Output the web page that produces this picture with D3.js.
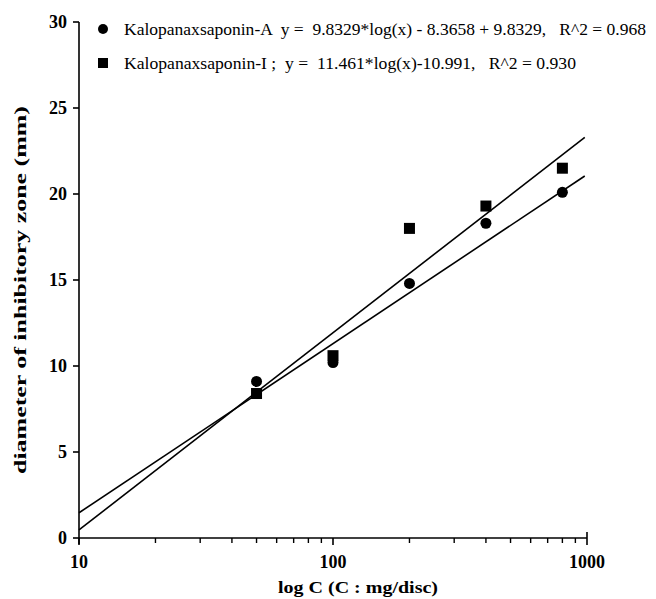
<!DOCTYPE html>
<html>
<head>
<meta charset="utf-8">
<script src="https://cdn.jsdelivr.net/npm/d3@7"></script>
<style>
  body { margin: 0; background: #fff; }
  text { font-family: "Liberation Serif", "Times New Roman", serif; fill: #000; white-space: pre; }
</style>
</head>
<body>
<div id="chart"></div>
<script>
// concentrations (mg/disc) and zone diameters (mm)
const conc = [50, 100, 200, 400, 800]
const saponinA = [9.1, 10.2, 14.8, 18.3, 20.1]
const saponinI = [8.4, 10.6, 18.0, 19.3, 21.5]
const yTicks = [0, 5, 10, 15, 20, 25, 30]
const xTicks = [10, 100, 1000]

// fitted lines: y = slope*log10(x) + intercept
const fitA = { slope: 9.8329, intercept: -8.3658 }
const fitI = { slope: 11.461, intercept: -10.991 }
const fitRange = [10, 980]

const legendLabels = [
  'Kalopanaxsaponin-A  y =  9.8329*log(x) - 8.3658 + 9.8329,   R^2 = 0.968',
  'Kalopanaxsaponin-I ;  y =  11.461*log(x)-10.991,   R^2 = 0.930'
]

const width = 656
const height = 599
const margin = { top: 22, right: 69, bottom: 61, left: 79 }

const svg = d3.select('#chart').append('svg')
  .attr('width', width)
  .attr('height', height)

const x = d3.scaleLog()
  .domain([10, 1000])
  .range([margin.left, width - margin.right])

const y = d3.scaleLinear()
  .domain([0, 30])
  .range([height - margin.bottom, margin.top])

// x axis: line + log ticks
const xMinor = []
for (let d = 10; d < 1000; d *= 10) {
  for (let k = 2; k <= 9; k++) xMinor.push(d * k)
}

const xAxis = svg.append('g')
xAxis.append('line')
  .attr('x1', x(10)).attr('x2', x(1000))
  .attr('y1', y(0)).attr('y2', y(0))
  .attr('stroke', '#000').attr('stroke-width', 1.6)

xAxis.selectAll('.minor').data(xMinor).enter().append('line')
  .attr('x1', d => x(d)).attr('x2', d => x(d))
  .attr('y1', y(0)).attr('y2', y(0) + 5)
  .attr('stroke', '#000').attr('stroke-width', 1.4)

xAxis.selectAll('.major').data(xTicks).enter().append('line')
  .attr('x1', d => x(d)).attr('x2', d => x(d))
  .attr('y1', d => d === 1000 ? y(0) - 6 : y(0))
  .attr('y2', y(0) + 7)
  .attr('stroke', '#000').attr('stroke-width', 1.6)

xAxis.selectAll('.xlab').data(xTicks).enter().append('text')
  .attr('x', d => x(d))
  .attr('y', y(0) + 30)
  .attr('text-anchor', 'middle')
  .style('font-size', '18px')
  .style('font-weight', 'bold')
  .text(d => d)

// y axis
const yAxis = svg.append('g')
yAxis.append('line')
  .attr('x1', x(10)).attr('x2', x(10))
  .attr('y1', y(0) + 6).attr('y2', y(30))
  .attr('stroke', '#000').attr('stroke-width', 1.6)

yAxis.selectAll('.ytick').data(yTicks).enter().append('line')
  .attr('x1', x(10) - 6).attr('x2', x(10))
  .attr('y1', d => y(d)).attr('y2', d => y(d))
  .attr('stroke', '#000').attr('stroke-width', 1.6)

yAxis.selectAll('.ylab').data(yTicks).enter().append('text')
  .attr('x', x(10) - 12)
  .attr('y', d => y(d) + 6)
  .attr('text-anchor', 'end')
  .style('font-size', '18px')
  .style('font-weight', 'bold')
  .text(d => d)

// axis titles
svg.append('text')
  .attr('x', 358)
  .attr('y', 593)
  .attr('text-anchor', 'middle')
  .style('font-size', '17px')
  .style('font-weight', 'bold')
  .attr('textLength', 160)
  .attr('lengthAdjust', 'spacingAndGlyphs')
  .text('log C (C : mg/disc)')

svg.append('text')
  .attr('transform', 'translate(26,' + 290 + ') rotate(-90)')
  .attr('text-anchor', 'middle')
  .style('font-size', '17px')
  .style('font-weight', 'bold')
  .attr('textLength', 368)
  .attr('lengthAdjust', 'spacingAndGlyphs')
  .text('diameter of inhibitory zone (mm)')

// regression lines
const fitLine = f => d3.line()
  .x(d => x(d))
  .y(d => y(f.slope * Math.log10(d) + f.intercept))

svg.append('path')
  .datum(fitRange)
  .attr('d', fitLine(fitA))
  .attr('fill', 'none').attr('stroke', '#000').attr('stroke-width', 1.6)

svg.append('path')
  .datum(fitRange)
  .attr('d', fitLine(fitI))
  .attr('fill', 'none').attr('stroke', '#000').attr('stroke-width', 1.6)

// points
svg.selectAll('.ptA').data(conc).enter().append('circle')
  .attr('cx', d => x(d))
  .attr('cy', (d, i) => y(saponinA[i]))
  .attr('r', 5.5)
  .attr('fill', '#000')

svg.selectAll('.ptI').data(conc).enter().append('rect')
  .attr('x', d => x(d) - 5.5)
  .attr('y', (d, i) => y(saponinI[i]) - 5.5)
  .attr('width', 11).attr('height', 11)
  .attr('fill', '#000')

// legend
const legend = svg.append('g')
legend.append('circle').attr('cx', 103).attr('cy', 29).attr('r', 5).attr('fill', '#000')
legend.append('rect').attr('x', 98).attr('y', 58).attr('width', 10).attr('height', 10).attr('fill', '#000')

legend.append('text')
  .attr('x', 124).attr('y', 35)
  .style('font-size', '17px')
  .attr('textLength', 522)
  .attr('lengthAdjust', 'spacingAndGlyphs')
  .text(legendLabels[0])

legend.append('text')
  .attr('x', 124).attr('y', 69)
  .style('font-size', '17px')
  .attr('textLength', 452)
  .attr('lengthAdjust', 'spacingAndGlyphs')
  .text(legendLabels[1])
</script>
</body>
</html>
